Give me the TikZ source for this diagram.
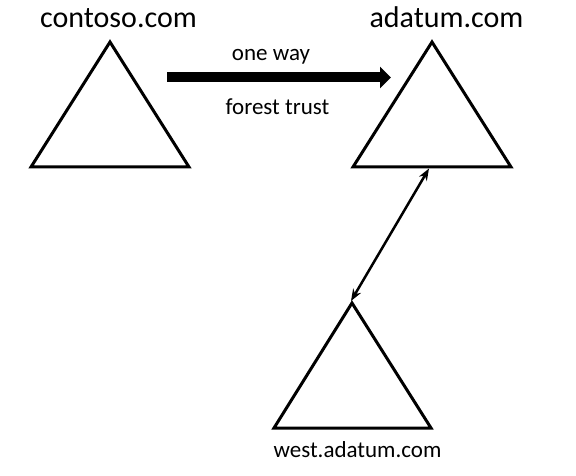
\documentclass[tikz,border=0pt]{standalone}
\usepackage{fontspec}
\setmainfont{Carlito}
\usetikzlibrary{arrows.meta}

\tikzset{
  forestshape/.style={draw,line width=3pt,line join=miter},
  biglabel/.style={anchor=base,inner sep=0pt,font=\fontsize{30}{36}\selectfont},
  smalllabel/.style={anchor=base,inner sep=0pt,font=\fontsize{23}{28}\selectfont},
}

\begin{document}
\begin{tikzpicture}[x=1pt,y=-1pt]
		\useasboundingbox (0,0) rectangle (576,476);
		% TRIANGLES
		\coordinate (contosotop) at (110,42);
		\coordinate (contosoleft) at (31,167);
		\coordinate (contosoright) at (189,167);
		\coordinate (adatumtop) at (432,42);
		\coordinate (adatumleft) at (353,167);
		\coordinate (adatumright) at (511,167);
		\coordinate (westtop) at (352,303);
		\coordinate (westleft) at (274,428);
		\coordinate (westright) at (431,428);
		\draw [forestshape] (contosotop) -- (contosoleft) -- (contosoright) -- cycle;
		\draw [forestshape] (adatumtop) -- (adatumleft) -- (adatumright) -- cycle;
		\draw [forestshape] (westtop) -- (westleft) -- (westright) -- cycle;
		% LABELS
		\node [biglabel] (contoso) at (118.5,28) {contoso.com};
		\node [biglabel] (adatum) at (446.5,28) {adatum.com};
		\node [smalllabel] (west) at (357.5,457) {west.adatum.com};
		\node [smalllabel] (oneway) at (271,61) {one way};
		\node [smalllabel] (forest) at (277.5,115) {forest trust};
		% TRUSTS
		\coordinate (truststart) at (167,77.5);
		\coordinate (trustend) at (391,77.5);
		\draw [-{Triangle[width=21pt,length=11pt]},line width=10pt] (truststart) -- (trustend);
		\coordinate (parent) at (429,168.5);
		\coordinate (child) at (351,301);
		\draw [{Stealth[length=12pt,width=9pt]}-{Stealth[length=12pt,width=9pt]},line width=2.5pt] (parent) -- (child);
		\end{tikzpicture}
\end{document}
